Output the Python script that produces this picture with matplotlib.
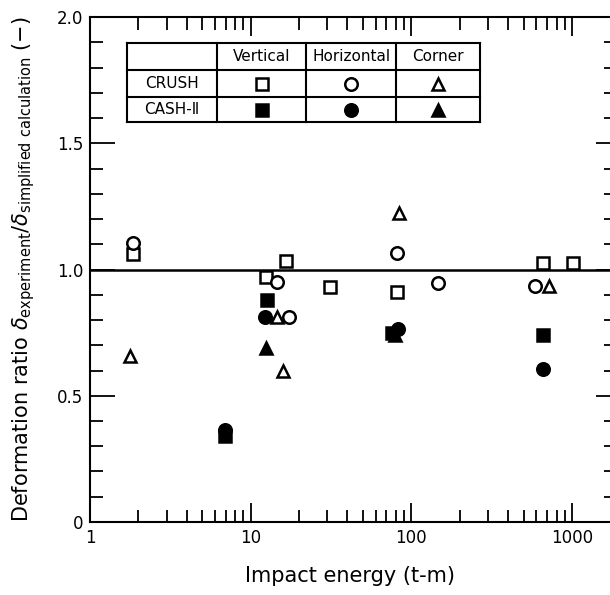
import numpy as np
import matplotlib
matplotlib.use('Agg')
import matplotlib.pyplot as plt
from matplotlib.ticker import LogLocator, MultipleLocator, FixedLocator, NullFormatter

plt.rcParams['font.family'] = ['DejaVu Sans', 'Noto Sans CJK JP']
plt.rcParams['mathtext.fontset'] = 'dejavusans'

# CRUSH (open markers)
crush_vert_x = [1.85, 16.5, 12.4, 31, 81, 661, 1016]
crush_vert_y = [1.06, 1.034, 0.97, 0.93, 0.91, 1.026, 1.026]
crush_hor_x = [1.85, 14.5, 17.2, 81, 146, 590]
crush_hor_y = [1.105, 0.95, 0.81, 1.065, 0.947, 0.935]
crush_cor_x = [1.78, 14.6, 16.0, 83.5, 720]
crush_cor_y = [0.657, 0.81, 0.60, 1.224, 0.935]

# CASH-II (filled markers)
cash_vert_x = [6.95, 12.7, 76, 661]
cash_vert_y = [0.34, 0.88, 0.75, 0.74]
cash_hor_x = [6.95, 12.2, 82, 661]
cash_hor_y = [0.365, 0.81, 0.765, 0.605]
cash_cor_x = [12.5, 79]
cash_cor_y = [0.69, 0.74]

col_labels = ['Vertical', 'Horizontal', 'Corner']
row_labels = ['CRUSH', 'CASH-Ⅱ']

fig = plt.figure(figsize=(6.1, 5.95), dpi=100)
ax = fig.add_axes([0.1475, 0.1227, 0.853, 0.8487])

ms = dict(linestyle='none', color='black', markeredgewidth=1.8)
ax.plot(crush_vert_x, crush_vert_y, marker='s', markersize=8, markerfacecolor='white', **ms)
ax.plot(crush_hor_x, crush_hor_y, marker='o', markersize=9, markerfacecolor='white', **ms)
ax.plot(crush_cor_x, crush_cor_y, marker='^', markersize=9, markerfacecolor='white', **ms)
ax.plot(cash_vert_x, cash_vert_y, marker='s', markersize=8, **ms)
ax.plot(cash_hor_x, cash_hor_y, marker='o', markersize=9, **ms)
ax.plot(cash_cor_x, cash_cor_y, marker='^', markersize=9, **ms)

ax.axhline(1.0, color='black', linewidth=1.8, zorder=1)

ax.set_xscale('log')
ax.set_xlim(1, 1729)
ax.set_ylim(0, 2.0)

ax.xaxis.set_major_locator(FixedLocator([1, 10, 100, 1000]))
ax.xaxis.set_minor_locator(LogLocator(base=10, subs=np.arange(2, 10)))
ax.xaxis.set_minor_formatter(NullFormatter())
ax.set_xticklabels(['1', '10', '100', '1000'])
ax.yaxis.set_major_locator(FixedLocator([0, 0.5, 1.0, 1.5, 2.0]))
ax.yaxis.set_minor_locator(MultipleLocator(0.1))
ax.set_yticklabels(['0', '0.5', '1.0', '1.5', '2.0'])

ax.tick_params(which='both', direction='in', top=True, right=False, width=1.3, labelsize=12, pad=5)
ax.tick_params(axis='x', which='major', length=14)
ax.tick_params(axis='x', which='minor', length=9)
ax.tick_params(axis='y', which='major', length=18)
ax.tick_params(axis='y', which='minor', length=9)

sec = ax.secondary_yaxis('right')
sec.yaxis.set_major_locator(FixedLocator([0, 0.5, 1.0, 1.5, 2.0]))
sec.yaxis.set_minor_locator(MultipleLocator(0.1))
sec.tick_params(which='both', direction='in', labelright=False, width=1.3)
sec.tick_params(which='major', length=10)
sec.tick_params(which='minor', length=4)
sec.spines['right'].set_visible(False)

for s in ax.spines.values():
    s.set_linewidth(1.5)
ax.spines['right'].set_visible(False)

ax.set_xlabel('Impact energy (t-m)', fontsize=15, labelpad=14)
ax.set_ylabel(r'Deformation ratio $\delta_{\rm experiment}/\delta_{\rm simplified\ calculation}$ (−)',
              fontsize=15, labelpad=14)

# legend table
xs = [0.0713, 0.2447, 0.416, 0.5877, 0.7495]
ys = [0.9485, 0.895, 0.8416, 0.792]
for x in xs:
    ax.plot([x, x], [ys[0], ys[-1]], color='black', linewidth=1.5, transform=ax.transAxes, clip_on=False)
for y in ys:
    ax.plot([xs[0], xs[-1]], [y, y], color='black', linewidth=1.5, transform=ax.transAxes, clip_on=False)
for j, lab in enumerate(col_labels):
    ax.text((xs[j + 1] + xs[j + 2]) / 2, (ys[0] + ys[1]) / 2, lab, transform=ax.transAxes,
            ha='center', va='center', fontsize=11)
for i, lab in enumerate(row_labels):
    ax.text((xs[0] + xs[1]) / 2, (ys[i + 1] + ys[i + 2]) / 2, lab, transform=ax.transAxes,
            ha='center', va='center', fontsize=11)
markers = ['s', 'o', '^']
sizes = [8, 9, 9]
for i, face in enumerate(['white', 'black']):
    for j, m in enumerate(markers):
        ax.plot((xs[j + 1] + xs[j + 2]) / 2, (ys[i + 1] + ys[i + 2]) / 2, marker=m,
                markersize=sizes[j], markerfacecolor=face, transform=ax.transAxes, **ms)

fig.savefig('out.png', dpi=100)
